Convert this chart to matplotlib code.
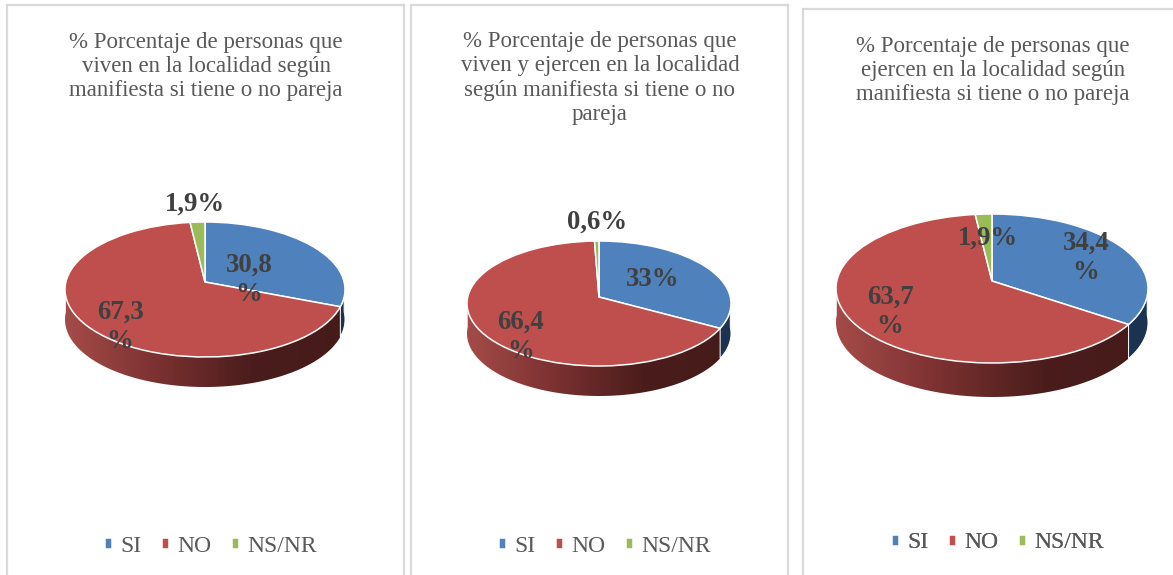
import numpy as np
import matplotlib
matplotlib.use('Agg')
from matplotlib import pyplot as plt
from matplotlib.colors import LinearSegmentedColormap
from matplotlib.patches import Polygon, Rectangle
from matplotlib.transforms import Transform

categories = ['SI', 'NO', 'NS/NR']
colors = ['#4F81BD', '#BE4F4C', '#9BBB59']

values_1 = [30.8, 67.3, 1.9]
values_2 = [33, 66.4, 0.6]
values_3 = [34.4, 63.7, 1.9]

labels_1 = ['30,8\n%', '67,3\n%', '1,9%']
labels_2 = ['33%', '66,4\n%', '0,6%']
labels_3 = ['34,4\n%', '63,7\n%', '1,9%']

title_1 = '% Porcentaje de personas que\nviven en la localidad según\nmanifiesta si tiene o no pareja'
title_2 = '% Porcentaje de personas que\nviven y ejercen en la localidad\nsegún manifiesta si tiene o no\npareja'
title_3 = '% Porcentaje de personas que\nejercen en la localidad según\nmanifiesta si tiene o no pareja'

WIDTH, HEIGHT = 1173, 575
FONT = 'Liberation Serif'
GREY = '#595959'
LABEL = '#404040'

red_side = LinearSegmentedColormap.from_list('red_side', ['#A54B49', '#7A3130', '#4A1D1C', '#451B1A'])


class PieTilt(Transform):
    """Unit circle to pixels, the far half of the pie squeezed like Excel's 3D pies."""
    input_dims = 2
    output_dims = 2

    def __init__(self, cx, apex, half_width, up, down):
        super().__init__()
        self.cx = cx
        self.apex = apex
        self.k = (down - up) / (down + up)
        self.a = up * (1 + self.k)
        self.b = half_width * np.sqrt(1 - self.k ** 2)

    def transform_non_affine(self, values):
        values = np.asarray(values, dtype=float)
        d = 1 + self.k * values[:, 1]
        return np.column_stack([self.cx + self.b * values[:, 0] / d,
                                self.apex - self.a * values[:, 1] / d])


def rim(tilt, start, stop):
    t = np.radians(np.linspace(start, stop, 120))
    return tilt.transform_non_affine(np.column_stack([np.cos(t), np.sin(t)]))


def draw_pie(ax, values, labels, title, panel, pie, label_pos, title_y, legend_pos):
    left, right, top = panel
    ax.add_patch(Rectangle((left, top), right - left, HEIGHT + 20 - top, fc='white', ec='#D9D9D9', lw=1.6, zorder=0))

    cx, apex, half_width, up, down, depth = pie
    tilt = PieTilt(cx, apex, half_width, up, down)
    wedges, _ = ax.pie(values, colors=colors, startangle=90, counterclock=False,
                       wedgeprops=dict(edgecolor='white', linewidth=1.1), frame=True)

    x_min, x_max = cx - half_width, cx + half_width
    for i, wedge in enumerate(wedges):
        wedge.set_zorder(3)
        start, stop = max(wedge.theta1, -180), min(wedge.theta2, 0)
        if start >= stop:
            continue
        edge = rim(tilt, start, stop)
        side = np.vstack([edge, (edge + [0, depth])[::-1]])
        if i == 1:
            gradient = ax.imshow(np.linspace(0, 1, 256)[None, :], cmap=red_side, aspect='auto', zorder=1,
                                 extent=(x_min, x_max, apex + down + depth, apex))
            clip = Polygon(side, transform=ax.transData)
            gradient.set_clip_path(clip)
        else:
            ax.add_patch(Polygon(side, fc='#1B3350', ec='white', lw=0.7, zorder=2))

    for wedge in wedges:
        wedge.set_transform(tilt + ax.transData)
        wedge.set_clip_on(False)

    ax.text(cx + 1, title_y, title, color=GREY, fontsize=16.5, family=FONT, ha='center', va='center',
            linespacing=1.21, zorder=5)
    for text, (x, y) in zip(labels, label_pos):
        ax.text(x, y, text, color=LABEL, fontsize=19.3, family=FONT, weight='bold', ha='center', va='center',
                linespacing=1.25, zorder=6)

    legend = ax.legend(wedges, categories, ncol=3, loc='center', frameon=False,
                       bbox_to_anchor=(legend_pos[0] / WIDTH, 1 - legend_pos[1] / HEIGHT),
                       bbox_transform=ax.figure.transFigure, handlelength=0.32, handleheight=0.34,
                       handletextpad=0.35, columnspacing=0.85, borderpad=0, labelcolor=GREY,
                       prop=dict(family=FONT, size=17))
    ax.add_artist(legend)


fig = plt.figure(figsize=(WIDTH / 100, HEIGHT / 100), dpi=100)
ax = fig.add_axes([0, 0, 1, 1])

draw_pie(ax, values_1, labels_1, title_1, (7, 404, 5), (205, 282, 140, 60, 75, 30),
         [(249, 280), (120, 327), (195, 204)], 66.5, (211, 546))
draw_pie(ax, values_2, labels_2, title_2, (411, 788, 5), (599, 297, 132, 56, 69, 30),
         [(653, 280), (521, 337), (597, 222)], 78, (605, 546))
draw_pie(ax, values_3, labels_3, title_3, (803, 1190, 9), (992, 281, 156, 67, 82, 34),
         [(1086, 258), (890, 312), (988, 238)], 70.5, (998, 543))

ax.set_xlim(0, WIDTH)
ax.set_ylim(HEIGHT, 0)
ax.set_aspect('auto')
ax.axis('off')

fig.savefig('out.png', dpi=100, facecolor='white')
